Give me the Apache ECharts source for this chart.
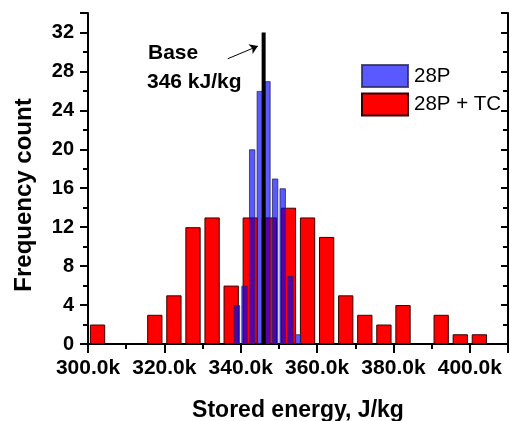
<!DOCTYPE html>
<html>
<head>
<meta charset="utf-8">
<script src="https://cdn.jsdelivr.net/npm/echarts@6/dist/echarts.min.js"></script>
<style>html,body{margin:0;padding:0;background:#fff;}#c{width:510px;height:421px;}</style>
</head>
<body>
<div id="c"></div>
<script>
// Red histogram (28P + TC): bin centres (J/kg) and counts
var redCenters = [302500, 317500, 322500, 327500, 332500, 337500, 342500, 347500, 352500, 357500, 362500, 367500, 372500, 377500, 382500, 392500, 397500, 402500];
var redCounts  = [2, 3, 5, 12, 13, 6, 13, 13, 14, 13, 11, 5, 3, 2, 4, 3, 1, 1];
// Blue histogram (28P)
var blueCenters = [339000, 341000, 343000, 345000, 347000, 349000, 351000, 353000, 355000];
var blueCounts  = [4, 6, 20, 26, 27, 17, 16, 7, 1];
// Base value line
var baseX = [346000, 346000];
var baseY = [0, 32];
var arrowFrom = [336600, 29.3];
var arrowTo = [344500, 30.6];
var seriesNames = ['28P', '28P + TC'];
var xTitle = 'Stored energy, J/kg';
var yTitle = 'Frequency count';

var FONT = 'Liberation Sans, Arial, sans-serif';
function pairs(xs, ys) { return xs.map(function (x, i) { return [x, ys[i]]; }); }

var chart = echarts.init(document.getElementById('c'), null, {renderer: 'canvas'});
var axisLine = {show: true, lineStyle: {color: '#000', width: 2}};
var option = {
  animation: false,
  backgroundColor: '#fff',
  grid: {left: 88, right: 2, top: 13, bottom: 77, containLabel: false, outerBoundsMode: 'none'},
  legend: {
    data: [{name: seriesNames[0], icon: 'rect'}, {name: seriesNames[1], icon: 'rect'}],
    orient: 'vertical',
    left: 356, top: 59,
    itemWidth: 46, itemHeight: 22, itemGap: 4.5,
    textStyle: {fontFamily: FONT, fontSize: 20.5, color: '#000', padding: [0, 0, 0, 1]},
    selectedMode: false
  },
  xAxis: [{
    type: 'value', position: 'bottom', min: 300000, max: 410000, interval: 20000,
    name: xTitle, nameLocation: 'middle', nameGap: 55,
    nameTextStyle: {fontFamily: FONT, fontSize: 23, fontWeight: 'bold', color: '#000'},
    axisLine: axisLine,
    axisTick: {show: true, inside: false, length: 9, lineStyle: {color: '#000', width: 2}},
    minorTick: {show: true, splitNumber: 2, length: 5, lineStyle: {color: '#000', width: 2}},
    axisLabel: {show: true, margin: 14, showMaxLabel: false, fontFamily: FONT, fontSize: 21, fontWeight: 'bold', color: '#000',
      formatter: function (v) { return (v / 1000).toFixed(1) + 'k'; }},
    splitLine: {show: false}
  }, {
    type: 'value', position: 'top', min: 300000, max: 410000, interval: 20000,
    axisLine: axisLine,
    axisTick: {show: true, inside: true, length: 7, lineStyle: {color: '#000', width: 2}},
    minorTick: {show: true, splitNumber: 2, length: 5, lineStyle: {color: '#000', width: 2}},
    axisLabel: {show: false}, splitLine: {show: false}
  }],
  yAxis: [{
    type: 'value', position: 'left', min: 0, max: 34, interval: 4,
    axisLine: axisLine,
    axisTick: {show: true, inside: false, length: 8, lineStyle: {color: '#000', width: 2}},
    minorTick: {show: true, splitNumber: 2, length: 5, lineStyle: {color: '#000', width: 2}},
    axisLabel: {show: true, margin: 14, showMaxLabel: false, fontFamily: FONT, fontSize: 20, fontWeight: 'bold', color: '#000'},
    splitLine: {show: false}
  }, {
    type: 'value', position: 'right', min: 0, max: 34, interval: 4,
    axisLine: axisLine,
    axisTick: {show: true, inside: true, length: 7, lineStyle: {color: '#000', width: 2}},
    minorTick: {show: true, splitNumber: 2, length: 5, lineStyle: {color: '#000', width: 2}},
    axisLabel: {show: false}, splitLine: {show: false}
  }],
  series: [{
    name: seriesNames[1], type: 'bar', xAxisIndex: 0, yAxisIndex: 0,
    barWidth: 15.3,
    data: pairs(redCenters, redCounts),
    itemStyle: {color: '#ff0000', borderColor: '#3a0000', borderWidth: 1},
    z: 2
  }, {
    name: seriesNames[0], type: 'bar', xAxisIndex: 1, yAxisIndex: 0,
    barWidth: 6.4,
    data: pairs(blueCenters, blueCounts),
    itemStyle: {color: 'rgba(0,0,255,0.65)', borderColor: 'rgba(40,40,90,0.8)', borderWidth: 1},
    z: 10
  }, {
    name: 'Base', type: 'line', xAxisIndex: 0, yAxisIndex: 0,
    data: pairs(baseX, baseY), symbol: 'none',
    lineStyle: {color: '#000', width: 4},
    z: 20,
    markLine: {
      silent: true, symbol: ['none', 'arrow'], symbolSize: 8,
      label: {show: false},
      lineStyle: {color: '#000', width: 1, type: 'solid'},
      data: [[{coord: arrowFrom}, {coord: arrowTo}]]
    }
  }],
  graphic: [{
    type: 'text', x: 24, y: 195, rotation: Math.PI / 2,
    style: {text: yTitle, font: 'bold 24px ' + FONT, fill: '#000', textAlign: 'center', textVerticalAlign: 'middle'}
  }, {
    type: 'text', x: 148, y: 53,
    style: {text: 'Base', font: 'bold 21px ' + FONT, fill: '#000', textAlign: 'left', textVerticalAlign: 'middle'}
  }, {
    type: 'text', x: 147, y: 82,
    style: {text: '346 kJ/kg', font: 'bold 21px ' + FONT, fill: '#000', textAlign: 'left', textVerticalAlign: 'middle'}
  }]
};
chart.setOption(option);
</script>
</body>
</html>
